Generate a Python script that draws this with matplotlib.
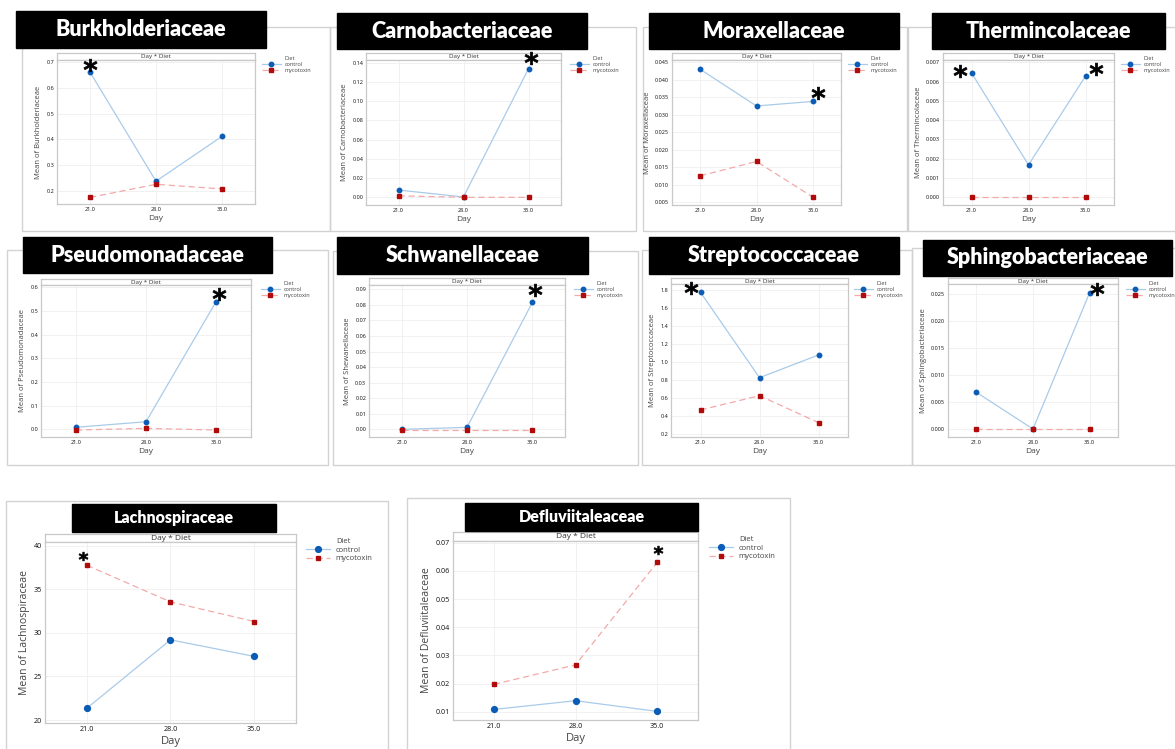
import matplotlib
matplotlib.use('Agg')
import matplotlib.pyplot as plt
from matplotlib.lines import Line2D
from matplotlib.patches import Rectangle
from matplotlib.path import Path
from matplotlib.textpath import TextPath
from matplotlib.font_manager import FontProperties
from matplotlib.ticker import MultipleLocator, FormatStrFormatter
from matplotlib.transforms import ScaledTranslation

# sampling days and diet groups
days = [21, 28, 35]
diets = ['control', 'mycotoxin']

# bacterial families (panel titles) and the names used on the y axes
families = ['Burkholderiaceae', 'Carnobacteriaceae', 'Moraxellaceae', 'Thermincolaceae',
            'Pseudomonadaceae', 'Schwanellaceae', 'Streptococcaceae', 'Sphingobacteriaceae',
            'Lachnospiraceae', 'Defluviitaleaceae']
axis_names = ['Burkholderiaceae', 'Carnobacteriaceae', 'Moraxellaceae', 'Thermincolaceae',
              'Pseudomonadaceae', 'Shewanellaceae', 'Streptococcaceae', 'Sphingobacteriaceae',
              'Lachnospiraceae', 'Defluviitaleaceae']

# mean relative abundance per day, one row per family
control_means = [
    [0.661, 0.238, 0.412],
    [0.0072, 0.0, 0.134],
    [0.0430, 0.0325, 0.0338],
    [0.00645, 0.00168, 0.00628],
    [0.0085, 0.032, 0.539],
    [0.0, 0.0013, 0.0815],
    [1.774, 0.826, 1.078],
    [0.00681, 0.0, 0.0253],
    [21.35, 29.2, 27.3],
    [0.0108, 0.0139, 0.0101],
]
mycotoxin_means = [
    [0.175, 0.226, 0.208],
    [0.0012, -0.0004, -0.0004],
    [0.0125, 0.0166, 0.0064],
    [0.0, 0.0, 0.0],
    [-0.003, 0.004, -0.003],
    [-0.0003, -0.0003, -0.0003],
    [0.467, 0.626, 0.326],
    [0.0, 0.0, 0.0],
    [37.75, 33.55, 31.3],
    [0.0197, 0.0266, 0.0630],
]

# significant differences: (family index, diet, day index)
starred = [(0, 'control', 0), (1, 'control', 2), (2, 'control', 2), (3, 'control', 0),
           (3, 'control', 2), (4, 'control', 2), (5, 'control', 2), (6, 'control', 0),
           (7, 'control', 2), (8, 'mycotoxin', 0), (9, 'mycotoxin', 2)]

W, H = 1175, 749


def fig_rect(x0, y0, x1, y1):
    return [x0 / W, 1 - y1 / H, (x1 - x0) / W, (y1 - y0) / H]


# pixel layout: frame, title box, plot box (left, right, strip top, plot top, bottom), legend corner
layout = [
    dict(frame=(22, 27, 330, 231), title=(16, 11, 266, 48), box=(57, 255, 53, 60, 204),
         legend=(262, 56), ylim=(0.1496, 0.708), step=0.1, fmt='%.1f', big=False),
    dict(frame=(330, 27, 636, 231), title=(337, 13, 587, 49), box=(366, 561, 53, 60, 205),
         legend=(570, 56), ylim=(-0.0084, 0.1431), step=0.02, fmt='%.2f', big=False),
    dict(frame=(643, 27, 907, 231), title=(649, 13, 899, 49), box=(672, 841, 53, 60, 205),
         legend=(848, 56), ylim=(0.00414, 0.04566), step=0.005, fmt='%.3f', big=False),
    dict(frame=(908, 27, 1185, 231), title=(932, 13, 1165, 49), box=(943, 1114, 53, 60, 205),
         legend=(1121, 56), ylim=(-0.0004, 0.00712), step=0.001, fmt='%.3f', big=False),
    dict(frame=(7, 250, 328, 465), title=(23, 237, 272, 273), box=(41, 251, 279, 285, 437),
         legend=(261, 281), ylim=(-0.0325, 0.61), step=0.1, fmt='%.1f', big=False),
    dict(frame=(333, 251, 638, 465), title=(337, 237, 588, 274), box=(369, 565, 278, 285, 437),
         legend=(574, 281), ylim=(-0.0049, 0.0927), step=0.01, fmt='%.2f', big=False),
    dict(frame=(642, 250, 912, 465), title=(649, 237, 899, 274), box=(671, 848, 278, 284, 437),
         legend=(854, 281), ylim=(0.1667, 1.8667), step=0.2, fmt='%.1f', big=False),
    dict(frame=(912, 248, 1185, 465), title=(923, 240, 1172, 276), box=(948, 1118, 278, 284, 437),
         legend=(1126, 281), ylim=(-0.00148, 0.0269), step=0.005, fmt='%.3f', big=False),
    dict(frame=(6, 501, 388, 760), title=(72, 504, 276, 532), box=(45, 296, 534, 542, 723),
         legend=(306, 538), ylim=(19.66, 40.42), step=5, fmt='%.0f', big=True),
    dict(frame=(407, 498, 790, 760), title=(465, 503, 698, 531), box=(453, 698, 532, 541, 720),
         legend=(709, 536), ylim=(0.00705, 0.0706), step=0.01, fmt='%.2f', big=True),
]

# star centre offset from its point, in pixels (right, up)
star_offsets = [(0, 7), (2, 11), (5, 8), (-12, 2), (10, 7), (3, 8), (3, 12), (-10, 4),
                (7, 4), (-4, 9), (1, 12)]

line_color = {'control': '#a9cbea', 'mycotoxin': '#f3a9a9'}
mark_color = {'control': '#0a5cb5', 'mycotoxin': '#b00a0a'}
styles = {'control': dict(ls='-', marker='o'), 'mycotoxin': dict(ls=(0, (5, 3)), marker='s')}

# bold asterisk glyph, centred on its own bounding box, used as a marker
glyph = TextPath((0, 0), '*', size=10, prop=FontProperties(family='DejaVu Sans', weight='bold'))
ext = glyph.get_extents()
star_verts = glyph.vertices - [(ext.x0 + ext.x1) / 2, (ext.y0 + ext.y1) / 2]
star_verts[glyph.codes == Path.CLOSEPOLY] = 0
asterisk = Path(star_verts, glyph.codes)

plt.rcParams['font.family'] = ['Open Sans', 'DejaVu Sans']

fig = plt.figure(figsize=(W / 100, H / 100), dpi=100)
axes = []

for i, name in enumerate(families):
    p = layout[i]
    big = p['big']
    tick_fs = 5.2 if big else 4.0
    lab_fs = 7.5 if big else 5.5
    leg_fs = 5.5 if big else 4.0
    ms = {'control': 4.2 if big else 3.2, 'mycotoxin': 3.0 if big else 2.4}

    # panel frame and black title banner
    fx0, fy0, fx1, fy1 = p['frame']
    fig.add_artist(Rectangle((fx0 / W, 1 - fy1 / H), (fx1 - fx0) / W, (fy1 - fy0) / H,
                             transform=fig.transFigure, fill=False, ec='#d2d2d2', lw=1, zorder=-1))
    tx0, ty0, tx1, ty1 = p['title']
    fig.add_artist(Rectangle((tx0 / W, 1 - ty1 / H), (tx1 - tx0) / W, (ty1 - ty0) / H,
                             transform=fig.transFigure, color='black', zorder=5))
    fig.text((tx0 + tx1) / 2 / W, 1 - (ty0 + ty1) / 2 / H, name, color='white',
             fontsize=11.5 if big else 15.5, fontweight='heavy', family='Lato',
             ha='center', va='center', zorder=6)

    l, r, st, t, b = p['box']
    strip = fig.add_axes(fig_rect(l, st, r, t))
    strip.set_xticks([])
    strip.set_yticks([])
    strip.text(0.5, 0.45, 'Day * Diet', ha='center', va='center', fontsize=6 if big else 4.5,
               color='#333333', transform=strip.transAxes)
    ax = fig.add_axes(fig_rect(l, t, r, b))
    ax.set_zorder(1)
    for a in (ax, strip):
        for s in a.spines.values():
            s.set_color('#c8c8c8')
            s.set_linewidth(0.9)

    handles = [Line2D([], [], ls='none')]
    for diet, means in zip(diets, (control_means[i], mycotoxin_means[i])):
        h, = ax.plot(days, means, color=line_color[diet], lw=0.9, ls=styles[diet]['ls'],
                     marker=styles[diet]['marker'], ms=ms[diet], mfc=mark_color[diet],
                     mec=mark_color[diet], zorder=3)
        handles.append(h)

    ax.set_xlim(17.5, 38.5)
    ax.set_ylim(*p['ylim'])
    ax.set_xticks(days)
    ax.set_xticklabels(['%.1f' % d for d in days])
    ax.yaxis.set_major_locator(MultipleLocator(p['step']))
    ax.yaxis.set_major_formatter(FormatStrFormatter(p['fmt']))
    ax.tick_params(length=0, labelsize=tick_fs, colors='#111111', pad=2)
    ax.grid(color='#efefef', lw=0.6)
    ax.set_axisbelow(True)
    ax.set_xlabel('Day', fontsize=lab_fs + 0.5, color='#444444', labelpad=2)
    ax.set_ylabel('Mean of ' + axis_names[i], fontsize=lab_fs, color='#444444', labelpad=3)

    lx, ly = p['legend']
    ax.legend(handles, ['Diet'] + diets, loc='upper left', bbox_to_anchor=(lx / W, 1 - ly / H),
              bbox_transform=fig.transFigure, frameon=False, fontsize=leg_fs, borderpad=0,
              borderaxespad=0, handlelength=3.2 if big else 3.4, handletextpad=0.7,
              labelspacing=0.15, labelcolor='#444444')
    axes.append(ax)

# asterisks over significant means
for (fam, diet, k), (dx, dy) in zip(starred, star_offsets):
    ax = axes[fam]
    big = layout[fam]['big']
    means = control_means[fam] if diet == 'control' else mycotoxin_means[fam]
    shift = ScaledTranslation(dx / 100, dy / 100, fig.dpi_scale_trans)
    ax.plot([days[k]], [means[k]], ls='none', marker=asterisk, ms=6.5 if big else 9.5,
            mfc='black', mec='black', mew=0.5, transform=ax.transData + shift,
            clip_on=False, zorder=6)

fig.savefig('out.png', dpi=100)
